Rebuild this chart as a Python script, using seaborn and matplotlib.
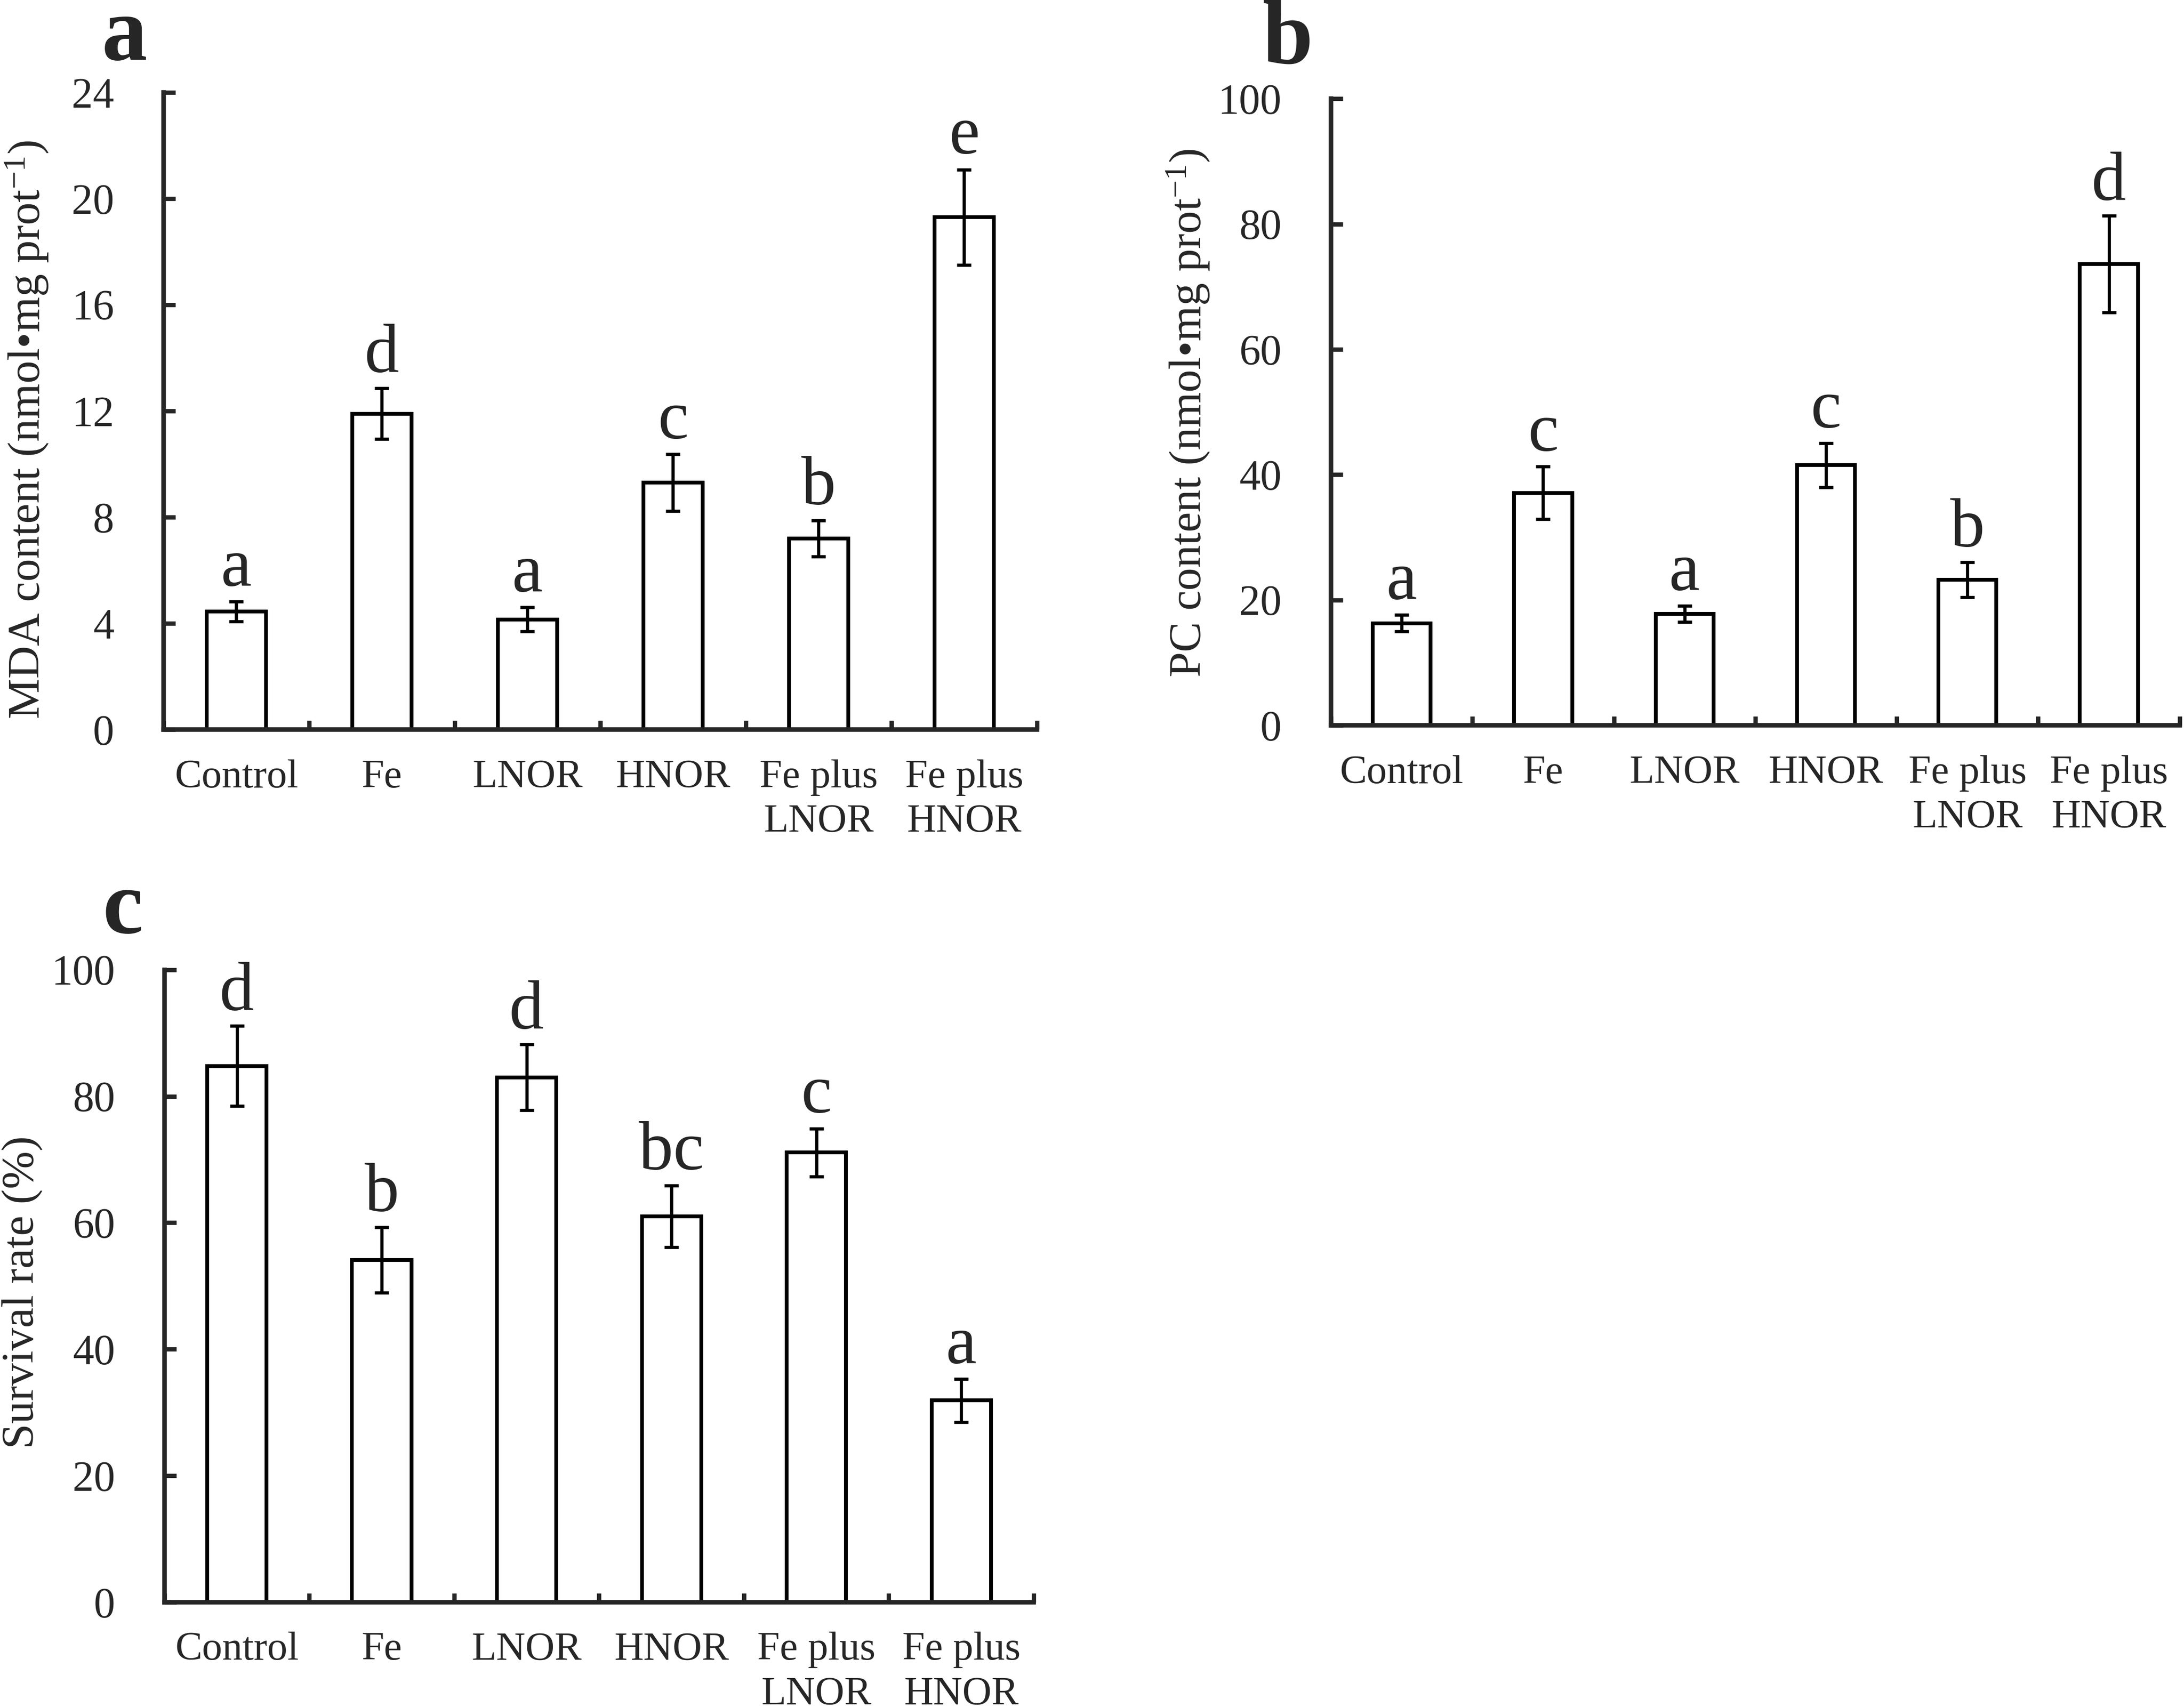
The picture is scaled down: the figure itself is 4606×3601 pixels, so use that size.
import numpy as np
import pandas as pd
import matplotlib
matplotlib.use("Agg")
import matplotlib.pyplot as plt
from matplotlib.ticker import FixedLocator, MultipleLocator
import seaborn as sns

# ===============================
# DATA
# ===============================
groups = ["Control", "Fe", "LNOR", "HNOR", "Fe plus\nLNOR", "Fe plus\nHNOR"]

mda_mean = [4.45, 11.9, 4.15, 9.3, 7.2, 19.3]
mda_err = [0.37, 0.96, 0.45, 1.07, 0.68, 1.8]
mda_sig = ["a", "d", "a", "c", "b", "e"]

pc_mean = [16.3, 37.1, 17.8, 41.5, 23.2, 73.6]
pc_err = [1.3, 4.2, 1.3, 3.5, 2.8, 7.7]
pc_sig = ["a", "c", "a", "c", "b", "d"]

surv_mean = [84.8, 54.1, 83.0, 61.0, 71.1, 31.9]
surv_err = [6.3, 5.2, 5.2, 4.9, 3.8, 3.4]
surv_sig = ["d", "b", "d", "bc", "c", "a"]

# ===============================
# STYLE
# ===============================
sns.set_style("ticks")
plt.rcParams['font.family'] = ['Liberation Serif', 'DejaVu Serif']
plt.rcParams['mathtext.fontset'] = 'custom'
plt.rcParams['mathtext.rm'] = 'Liberation Serif'
plt.rcParams['mathtext.it'] = 'Liberation Serif:italic'
plt.rcParams['axes.linewidth'] = 2.3

fig = plt.figure(figsize=(4606 / 300, 3601 / 300), dpi=300)
ax_a = fig.add_axes([0.0749, 0.5726, 0.3999, 0.3732])
ax_b = fig.add_axes([0.6094, 0.5751, 0.3886, 0.3671])
ax_c = fig.add_axes([0.0753, 0.0614, 0.3980, 0.3705])


def draw_panel(ax, mean, err, sig, ymax, ystep, ylabel, label_x, label_y):
    df = pd.DataFrame({"group": groups, "value": mean})
    sns.barplot(data=df, x="group", y="value", ax=ax, color="white",
                edgecolor="black", linewidth=1.9, width=0.41,
                saturation=1, errorbar=None)
    ax.errorbar(np.arange(len(groups)), mean, yerr=err, fmt="none",
                ecolor="black", elinewidth=1.6, capsize=3.5, capthick=1.6,
                zorder=3)
    for i, (m, e, s) in enumerate(zip(mean, err, sig)):
        ax.text(i, m + e + 0.025 * ymax, s, ha="center", va="baseline",
                fontsize=35)

    ax.set_xlim(-0.5, len(groups) - 0.5)
    ax.set_ylim(0, ymax)
    ax.yaxis.set_major_locator(MultipleLocator(ystep))
    ax.xaxis.set_minor_locator(FixedLocator(np.arange(-0.5, len(groups), 1.0)))

    ax.tick_params(axis="y", direction="in", length=6, width=2.2,
                   labelsize=21.5, pad=25)
    ax.tick_params(axis="x", which="major", length=0, labelsize=20.5, pad=15)
    ax.tick_params(axis="x", which="minor", direction="in", length=4.5,
                   width=2.2)
    for lab in ax.get_xticklabels():
        lab.set_linespacing(1.29)

    sns.despine(ax=ax)
    ax.set_xlabel("")
    ax.set_ylabel(ylabel, fontsize=23)
    ax.yaxis.set_label_coords(label_x, label_y)


draw_panel(ax_a, mda_mean, mda_err, mda_sig, 24, 4,
           r"MDA content (nmol•mg prot$^{-1}$)", -0.130, 0.471)
draw_panel(ax_b, pc_mean, pc_err, pc_sig, 100, 20,
           r"PC content (nmol•mg prot$^{-1}$)", -0.141, 0.498)
draw_panel(ax_c, surv_mean, surv_err, surv_sig, 100, 20,
           "Survival rate (%)", -0.140, 0.49)

# panel letters
fig.text(0.0571, 0.9650, "a", fontsize=46, fontweight="bold",
         ha="center", va="baseline")
fig.text(0.5897, 0.9628, "b", fontsize=46, fontweight="bold",
         ha="center", va="baseline")
fig.text(0.0562, 0.4535, "c", fontsize=46, fontweight="bold",
         ha="center", va="baseline")

fig.savefig("out.png", dpi=300, facecolor="white")
